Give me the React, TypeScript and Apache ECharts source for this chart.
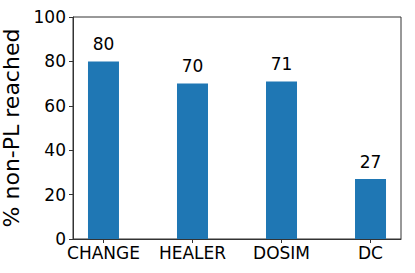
import React, { useEffect, useRef } from "react";
import * as echarts from "echarts";

const categories = ["CHANGE", "HEALER", "DOSIM", "DC"];
const values = [80, 70, 71, 27];
const yTicks = [0, 20, 40, 60, 80, 100];
const yAxisTitle = "% non-PL reached";

export default function App() {
  const ref = useRef<HTMLDivElement>(null);
  useEffect(() => {
    if (!ref.current) return;
    const chart = echarts.init(ref.current, null, { renderer: "svg" });
    const font = "DejaVu Sans";
    const idx = categories.map((_, i) => i);
    chart.setOption({
      animation: false,
      textStyle: { fontFamily: font },
      grid: {
        left: 73,
        right: 14,
        top: 17,
        bottom: 34,
        show: true,
        borderColor: "#333",
        borderWidth: 1,
        containLabel: false,
        outerBoundsMode: "none",
      },
      xAxis: {
        type: "value",
        min: -0.3425,
        max: 3.3425,
        splitLine: { show: false },
        axisLine: { show: true, onZero: false, lineStyle: { color: "#333", width: 1 } },
        axisTick: {
          show: true,
          customValues: idx,
          length: 4,
          lineStyle: { color: "#333" },
        },
        axisLabel: {
          customValues: idx,
          formatter: (v: number) => categories[Math.round(v)] ?? "",
          color: "#000",
          fontSize: 17,
          fontFamily: font,
          margin: 5,
        },
      },
      yAxis: {
        type: "value",
        min: yTicks[0],
        max: yTicks[yTicks.length - 1],
        interval: 20,
        splitLine: { show: false },
        axisLine: { show: true, onZero: false, lineStyle: { color: "#333", width: 1 } },
        axisTick: { show: true, length: 4, lineStyle: { color: "#333" } },
        axisLabel: { color: "#000", fontSize: 17, fontFamily: font, margin: 7 },
        name: yAxisTitle,
        nameLocation: "middle",
        nameGap: 33,
        nameTextStyle: { color: "#000", fontSize: 22, fontFamily: font },
      },
      series: [
        {
          type: "bar",
          data: values.map((v, i) => [i, v]),
          barWidth: 31,
          itemStyle: { color: "#1f77b4" },
          label: {
            show: true,
            position: "top",
            distance: 9,
            color: "#000",
            fontSize: 17,
            fontFamily: font,
            formatter: (p: any) => String(p.value[1]),
          },
        },
      ],
    });
    return () => chart.dispose();
  }, []);
  return <div ref={ref} style={{ width: 415, height: 273, position: "absolute", left: 0, top: 0 }} />;
}
